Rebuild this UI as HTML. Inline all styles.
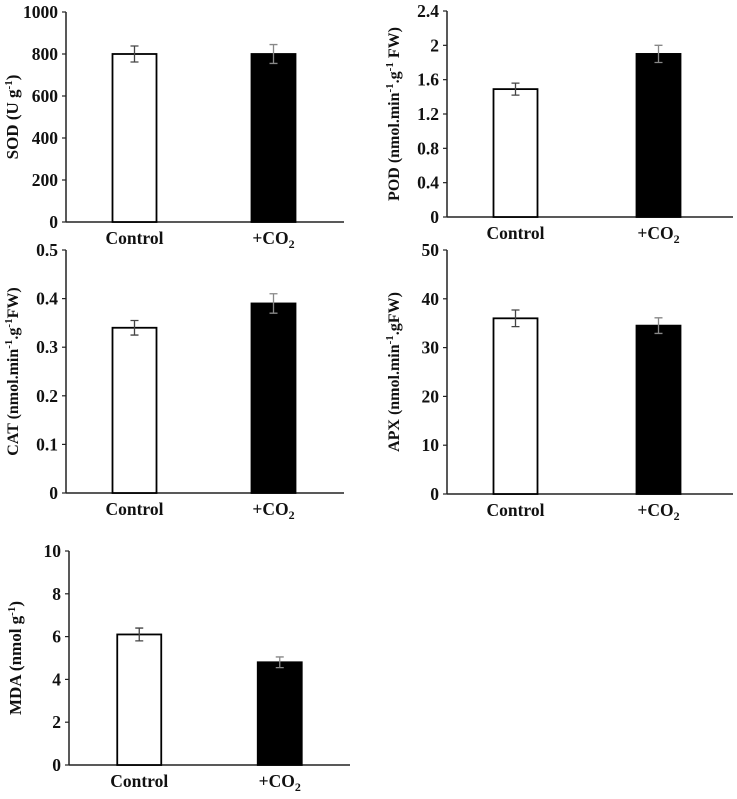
<!DOCTYPE html>
<html><head><meta charset="utf-8"><style>
body{margin:0;background:#fff}
svg text{font-family:"Liberation Serif","Times New Roman",serif !important;font-weight:bold;fill:#111}
</style></head><body>
<svg id="c" width="737" height="794" xmlns="http://www.w3.org/2000/svg" font-family="Liberation Serif, serif">
</svg>
<script>
const categories=["Control","+CO2"];
const sodValues=[800,800];const sodErrors=[38,45];const sodTicks=[0,200,400,600,800,1000];
const podValues=[1.49,1.9];const podErrors=[0.07,0.1];const podTicks=[0,0.4,0.8,1.2,1.6,2,2.4];
const catValues=[0.34,0.39];const catErrors=[0.015,0.02];const catTicks=[0,0.1,0.2,0.3,0.4,0.5];
const apxValues=[36,34.5];const apxErrors=[1.7,1.6];const apxTicks=[0,10,20,30,40,50];
const mdaValues=[6.1,4.8];const mdaErrors=[0.3,0.25];const mdaTicks=[0,2,4,6,8,10];

const NS="http://www.w3.org/2000/svg";
const svg=document.getElementById('c');
function mk(tag,attrs,parent){const e=document.createElementNS(NS,tag);for(const k in attrs)e.setAttribute(k,attrs[k]);if(tag==='text')e.setAttribute('font-family','Liberation Serif, serif');(parent||svg).appendChild(e);return e;}

function panel(name,cfg,values,errors,ticks){
  const g=mk('g',{});
  
  
  const max=ticks[ticks.length-1];
  const y=v=>cfg.y0-(v/max)*(cfg.y0-cfg.yTop);
  const ax=mk('line',{x1:cfg.ax,y1:cfg.yTop,x2:cfg.ax,y2:cfg.y0,stroke:'#222','stroke-width':1.5},g);
  
  
  const xa=mk('line',{x1:cfg.ax,y1:cfg.y0,x2:cfg.xEnd,y2:cfg.y0,stroke:'#222','stroke-width':1.5},g);
  
  
  ticks.forEach(t=>{
    mk('line',{x1:cfg.ax-4,y1:y(t),x2:cfg.ax,y2:y(t),stroke:'#222','stroke-width':1.2},g);
    const tl=mk('text',{x:cfg.ax-8,y:y(t)+6,'text-anchor':'end','font-size':17.5},g);
    tl.textContent=String(t);
    
    
  });
  const slot=(cfg.xEnd-cfg.ax)/2;
  values.forEach((v,i)=>{
    const cx=cfg.ax+slot*(i+0.5)+cfg.shift;
    const b=mk('rect',{x:cx-22,y:y(v),width:44,height:cfg.y0-y(v),fill:i?'#000':'#fff',stroke:'#000','stroke-width':1.8},g);
    
    
    const e=errors[i];
    const eb=mk('path',{d:`M${cx},${y(v+e)}V${y(v-e)}M${cx-4},${y(v+e)}H${cx+4}M${cx-4},${y(v-e)}H${cx+4}`,stroke:i?'#888':'#444','stroke-width':1.3,fill:'none'},g);
    
    
    const lb=mk('text',{x:cx,y:cfg.y0+22,'text-anchor':'middle','font-size':17.5},g);
    if(i===0){lb.textContent=categories[0];}
    else{lb.textContent='+CO';const s=mk('tspan',{'font-size':12,dy:4},lb);s.textContent='2';}
    
    
  });
  const yl=mk('text',{x:0,y:0,'text-anchor':'middle','font-size':cfg.tfs||17,transform:`translate(${cfg.ax-48},${(cfg.y0+cfg.yTop)/2}) rotate(-90)`},g);
  yl.innerHTML=cfg.title;
  
  
}
const S1='<tspan font-size="11" dy="-6">-1</tspan>';
panel('sod',{ax:66,yTop:12,y0:222,xEnd:344,shift:-1,title:'SOD (U g'+S1+'<tspan dy="6">)</tspan>'},sodValues,sodErrors,sodTicks);
panel('pod',{ax:447,yTop:11,y0:217,xEnd:733,shift:-3,tfs:16,title:'POD (nmol.min'+S1+'<tspan dy="6">.g</tspan>'+S1+'<tspan dy="6"> FW)</tspan>'},podValues,podErrors,podTicks);
panel('cat',{ax:66,yTop:250,y0:493,xEnd:344,shift:-1,tfs:16,title:'CAT (nmol.min'+S1+'<tspan dy="6">.g</tspan>'+S1+'<tspan dy="6">FW)</tspan>'},catValues,catErrors,catTicks);
panel('apx',{ax:447,yTop:250,y0:494,xEnd:733,shift:-3,tfs:16,title:'APX (nmol.min'+S1+'<tspan dy="6">.gFW)</tspan>'},apxValues,apxErrors,apxTicks);
panel('mda',{ax:69,yTop:551,y0:765,xEnd:350,shift:0,title:'MDA  (nmol g'+S1+'<tspan dy="6">)</tspan>'},mdaValues,mdaErrors,mdaTicks);
</script>
</body></html>
